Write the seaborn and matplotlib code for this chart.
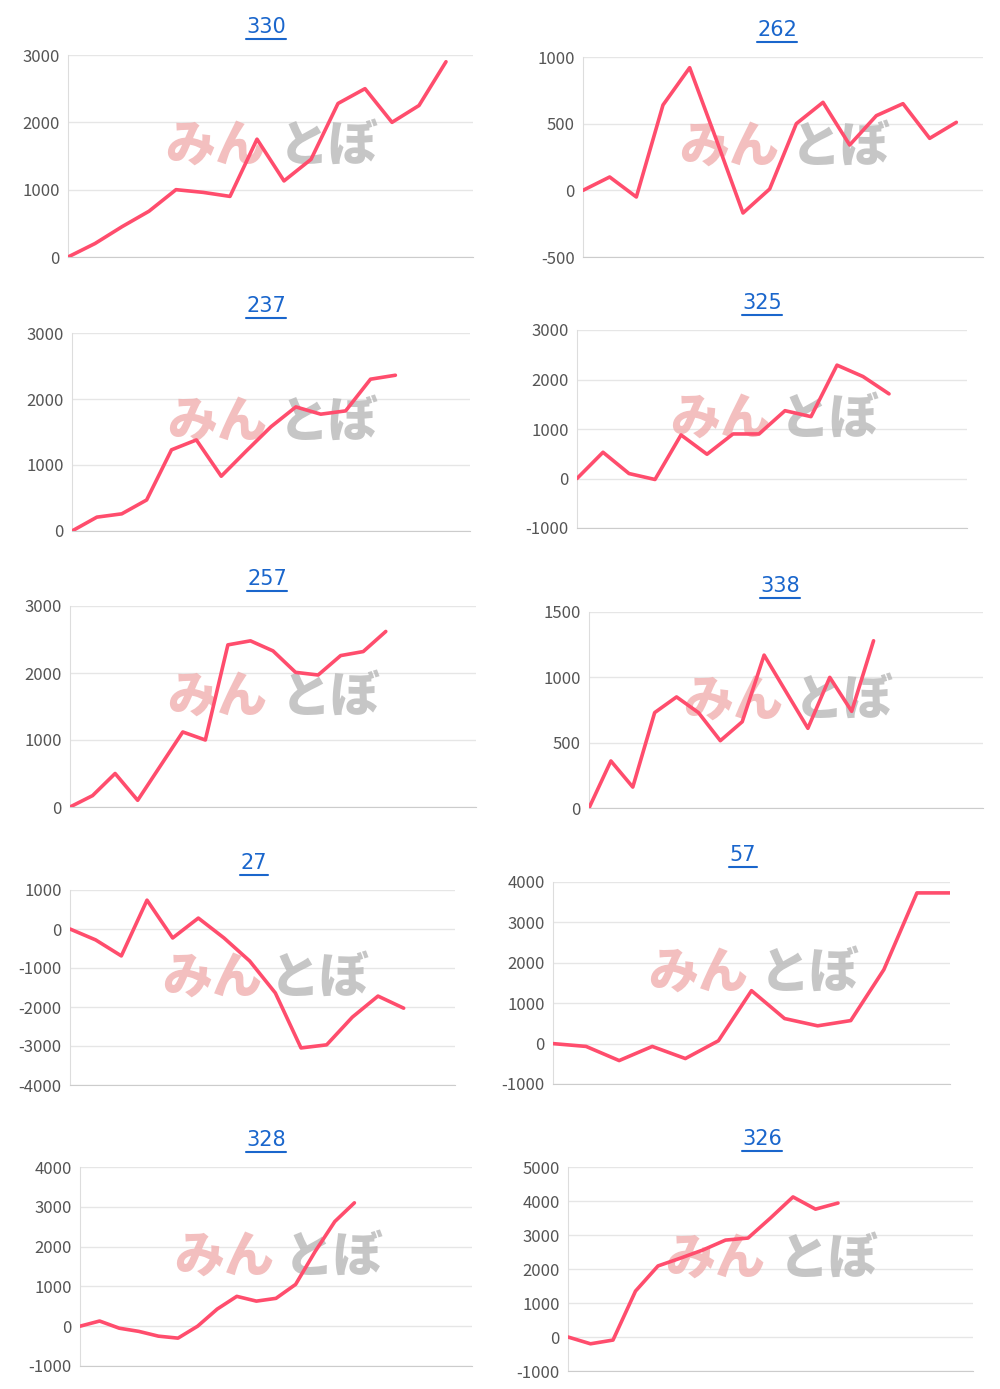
import matplotlib.pyplot as plt
import seaborn as sns
import pandas as pd
from matplotlib.lines import Line2D

sns.set_style('whitegrid')
plt.rcParams['font.family'] = ['Noto Sans CJK JP', 'DejaVu Sans']
plt.rcParams['axes.unicode_minus'] = False

titles = ['330', '262', '237', '325', '257', '338', '27', '57', '328', '326']
series = [
    [0, 200, 450, 680, 1000, 960, 900, 1750, 1130, 1450, 2280, 2500, 2000, 2250, 2900],
    [0, 100, -50, 640, 920, 380, -170, 10, 500, 660, 340, 560, 650, 390, 510],
    [0, 210, 260, 470, 1230, 1380, 830, 1210, 1580, 1880, 1770, 1820, 2300, 2360],
    [0, 530, 100, -20, 880, 490, 900, 900, 1370, 1250, 2290, 2060, 1710],
    [0, 170, 500, 100, 610, 1120, 1000, 2420, 2480, 2330, 2010, 1970, 2260, 2320, 2620],
    [0, 360, 160, 730, 850, 730, 515, 660, 1170, 890, 610, 1000, 740, 1280],
    [0, -280, -690, 740, -230, 280, -230, -820, -1640, -3050, -2970, -2260, -1720, -2030],
    [0, -70, -420, -70, -370, 70, 1310, 620, 440, 570, 1830, 3730, 3730],
    [0, 130, -50, -130, -250, -300, 0, 430, 750, 630, 700, 1050, 1880, 2630, 3100],
    [0, -200, -90, 1350, 2090, 2320, 2560, 2850, 2910, 3500, 4120, 3760, 3940],
]
slots = [15, 15, 16, 15, 18, 18, 15, 12, 20, 18]
ylims = [(0, 3000), (-500, 1000), (0, 3000), (-1000, 3000), (0, 3000),
         (0, 1500), (-4000, 1000), (-1000, 4000), (-1000, 4000), (-1000, 5000)]
ysteps = [1000, 500, 1000, 1000, 1000, 500, 1000, 1000, 1000, 1000]

# pixel rects: left, top, right, bottom
rects = [(68, 55, 473, 257), (583, 57, 983, 257), (72, 333, 470, 531), (577, 330, 967, 528),
         (70, 606, 476, 807), (589, 612, 983, 808), (70, 890, 455, 1085), (553, 882, 950, 1084),
         (80, 1167, 472, 1366), (568, 1167, 973, 1371)]
title_pos = [(266, 27), (777, 30), (266, 306), (762, 303), (267, 579), (780, 586),
             (254, 863), (743, 855), (266, 1140), (762, 1139)]

W, H = 1000, 1389
fig = plt.figure(figsize=(W / 100, H / 100), dpi=100)

for i, vals in enumerate(series):
    l, t, r, b = rects[i]
    ax = fig.add_axes([l / W, 1 - b / H, (r - l) / W, (b - t) / H])
    df = pd.DataFrame({'x': range(len(vals)), 'y': vals})
    sns.lineplot(data=df, x='x', y='y', ax=ax, color='#ff4d6d', linewidth=2.6, zorder=3)
    ax.set_xlim(0, slots[i])
    lo, hi = ylims[i]
    ax.set_ylim(lo, hi)
    ax.set_yticks(range(lo, hi + 1, ysteps[i]))
    ax.set_xticks([])
    ax.set_xlabel('')
    ax.set_ylabel('')
    ax.grid(axis='y', color='#e6e6e6', linewidth=1)
    ax.grid(axis='x', visible=False)
    for s in ['top', 'right']:
        ax.spines[s].set_visible(False)
    ax.spines['left'].set_color('#dddddd')
    ax.spines['bottom'].set_color('#cccccc')
    ax.tick_params(axis='y', labelsize=12, labelcolor='#555555', length=0, pad=6)
    # watermark
    ax.text(0.24, 0.55, 'みん', transform=ax.transAxes, fontsize=36, fontweight='heavy',
            style='italic', color='#f0b0b0', alpha=0.8, ha='left', va='center', zorder=1)
    ax.text(0.52, 0.55, 'とぼ', transform=ax.transAxes, fontsize=36, fontweight='heavy',
            style='italic', color='#b8b8b8', alpha=0.8, ha='left', va='center', zorder=1)
    # title with underline
    tx, ty = title_pos[i]
    fig.text(tx / W, 1 - ty / H, titles[i], fontsize=15, color='#1a66cc',
             ha='center', va='center', family='DejaVu Sans')
    hw = len(titles[i]) * 6.8
    fig.add_artist(Line2D([(tx - hw) / W, (tx + hw) / W], [1 - (ty + 12) / H] * 2,
                          color='#1a66cc', linewidth=1.5))

fig.savefig('out.png', dpi=100)
